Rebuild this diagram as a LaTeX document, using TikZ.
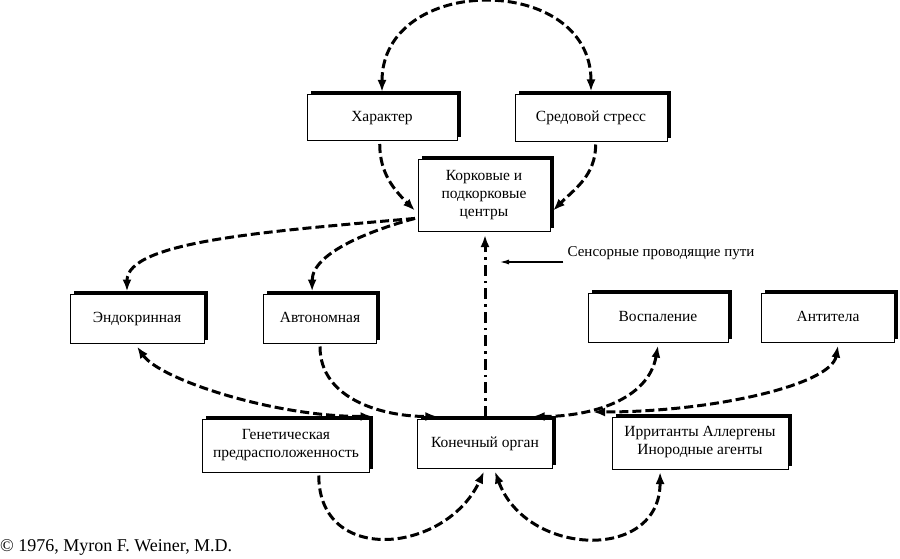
\documentclass[tikz,border=0pt]{standalone}
\usepackage{fontspec}
\setmainfont{Liberation Serif}
\usetikzlibrary{arrows.meta,shadows}

\begin{document}
\begin{tikzpicture}[x=1pt, y=1pt, font=\fontsize{15}{18}\selectfont, >={Latex[length=12pt,width=9pt]},
	main/.style = {draw, fill=white, line width=1pt, align=center, inner sep=2pt, outer sep=3pt,
		font=\fontsize{15.5}{18}\selectfont, execute at begin node=\strut,
		general shadow={fill=black, shadow xshift=3.5pt, shadow yshift=3.5pt}},
	link/.style = {line width=3pt, dash pattern=on 9pt off 4pt}]
			\useasboundingbox (0,0) rectangle (900,558);
			\node[main, minimum width=150pt, minimum height=46pt] (1) at (382,440) {Характер};
			\node[main, minimum width=152pt, minimum height=47pt] (2) at (591,440) {Средовой стресс};
			\node[main, minimum width=132pt, minimum height=72pt] (3) at (484,362) {Корковые и\\подкорковые\\центры};
			\node[main, minimum width=134pt, minimum height=49pt] (4) at (137,239) {Эндокринная};
			\node[main, minimum width=113pt, minimum height=49pt] (5) at (320,239) {Автономная};
			\node[main, minimum width=140pt, minimum height=49pt] (6) at (658,240) {Воспаление};
			\node[main, minimum width=133pt, minimum height=49pt] (7) at (828,240) {Антитела};
			\node[main, minimum width=167pt, minimum height=53pt] (8) at (286,112) {Генетическая\\предрасположенность};
			\node[main, minimum width=135pt, minimum height=49pt] (9) at (485,114) {Конечный орган};
			\node[main, minimum width=176pt, minimum height=52pt] (10) at (700,115) {Ирританты Аллергены\\Инородные агенты};
			\node[inner sep=4pt] (s) at (661,305) {Сенсорные проводящие пути};
			\node[anchor=west, inner sep=0pt, font=\fontsize{18}{20}\selectfont] (c) at (0,11) {© 1976, Myron F. Weiner, M.D.};
			\coordinate (p) at (500,296);
			\coordinate (q) at (593,146);
			% top part
			\draw[link, <->] (1.north) to [out=90,in=90,looseness=1.45] (2.north);
			\draw[link, ->] (1.265) to [out=-90,in=135] (3.192);
			\draw[link, ->] (2.-80) to [out=-90,in=45] (3.-12);
			\draw[link, ->] (3.198) to [out=185,in=90,out distance=150pt,in distance=50pt] (4.110);
			\draw[link, ->] (3.198) to [out=195,in=90,out distance=40pt,in distance=40pt] (5.106);
			% middle part
			\draw[link, <->] (4.south) to [out=-55,in=180,out distance=40pt,in distance=100pt] (8.north east);
			\draw[link, ->] (5.south) to [out=-90,in=180] (9.150);
			\draw[link, <->] (6.south) to [out=-100,in=0] (9.30);
			\draw[link, <->] (7.-70) to [out=-100,in=0,out distance=40pt,in distance=120pt] (q);
			\draw[line width=3pt, dash pattern=on 11pt off 5pt on 2.5pt off 5pt, ->] (9.north) -- (9.north |- 3.south);
			\draw[line width=1.1pt, -{Latex[length=9pt,width=5pt]}] (s.west |- p) -- (p);
			% bottom part
			\draw[link, ->] (8.-42) to [out=-90,in=-115,looseness=1.4] (9.-92);
			\draw[link, <->] (10.-144) to [out=-90,in=-70,looseness=1.4] (9.-70);
		\end{tikzpicture}
\end{document}
